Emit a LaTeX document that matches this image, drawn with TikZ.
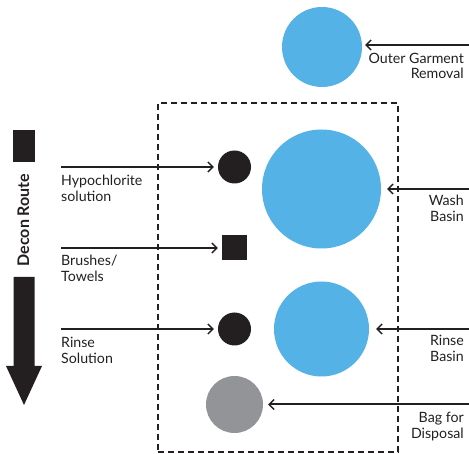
\documentclass[tikz,border=0pt]{standalone}
\usepackage{fontspec}
\setmainfont{Lato}
\usetikzlibrary{arrows.meta}
\definecolor{basin}{RGB}{84,178,230}
\definecolor{ink}{RGB}{35,31,32}
\definecolor{bagfill}{RGB}{147,148,151}
\begin{document}
\begin{tikzpicture}[x=1pt,y=-1pt,
  feed/.style={draw=ink, line width=2pt,
    -{Straight Barb[length=5pt,width=10pt,line width=1.4pt]}},
  lbl/.style={font=\fontsize{14.2}{15.5}\selectfont, inner sep=0pt, text=ink},
  dot/.style={circle, fill=ink, inner sep=0pt, minimum size=33pt},
  tub/.style={circle, fill=basin, inner sep=0pt}]
\useasboundingbox (0,0) rectangle (469,454);

% decontamination zone
\node[draw=ink, line width=2pt, dash pattern=on 6pt off 4pt, inner sep=0pt,
      minimum width=240pt, minimum height=349pt] (zone) at (278,277.5) {};

% stations
\node[tub, minimum size=80pt] (outer) at (322,47) {};
\node[tub, minimum size=119pt] (wash) at (321.5,189) {};
\node[tub, minimum size=95pt] (rinse) at (321.5,329) {};
\node[dot] (hypo) at (234.5,167) {};
\node[fill=ink, inner sep=0pt, minimum size=25pt] (brush) at (234.5,248) {};
\node[dot] (rsol) at (234.5,329) {};
\node[circle, fill=bagfill, inner sep=0pt, minimum size=57pt] (bag) at (234.5,404.5) {};

% feed lines from the left
\coordinate (hypoIn) at (61,167);
\coordinate (brushIn) at (61,248);
\coordinate (rsolIn) at (61,329);
\draw[feed, shorten >=4pt] (hypoIn) -- (hypo.west);
\draw[feed, shorten >=4pt] (brushIn) -- (brush.west);
\draw[feed, shorten >=4pt] (rsolIn) -- (rsol.west);

% feed lines from the right
\coordinate (outerIn) at (469,45);
\coordinate (washIn) at (469,189);
\coordinate (rinseIn) at (469,329);
\coordinate (bagIn) at (469,404.5);
\draw[feed, shorten >=3pt] (outerIn) -- (outerIn -| outer.east);
\draw[feed, shorten >=6pt] (washIn) -- (wash.east);
\draw[feed, shorten >=7pt] (rinseIn) -- (rinse.east);
\draw[feed, shorten >=5pt] (bagIn) -- (bag.east);

% labels
\node[lbl, anchor=north west, align=left] (tHypo) at (61,175) {Hypochlorite\\solution};
\node[lbl, anchor=north west, align=left] (tBrush) at (61,255) {Brushes/\\Towels};
\node[lbl, anchor=north west, align=left] (tRsol) at (61,337) {Rinse\\Solution};
\node[lbl, anchor=north east, align=right] (tOuter) at (464,53) {Outer Garment\\Removal};
\node[lbl, anchor=north east, align=right] (tWash) at (464,195) {Wash\\Basin};
\node[lbl, anchor=north east, align=right] (tRinse) at (464,335) {Rinse\\Basin};
\node[lbl, anchor=north east, align=right] (tBag) at (464,412) {Bag for\\Disposal};

% route indicator
\node[fill=ink, inner sep=0pt, minimum width=22pt, minimum height=32pt] (routeTop) at (24,146) {};
\node[rotate=90, text=ink, inner sep=0pt, font=\bfseries\fontsize{16}{18}\selectfont] (routeText) at (23.5,220) {Decon Route};
\fill[ink] (13.5,277) -- (34.5,277) -- (34.5,366) -- (42,366) -- (24,405)
  -- (6,366) -- (13.5,366) -- cycle;
\end{tikzpicture}
\end{document}
